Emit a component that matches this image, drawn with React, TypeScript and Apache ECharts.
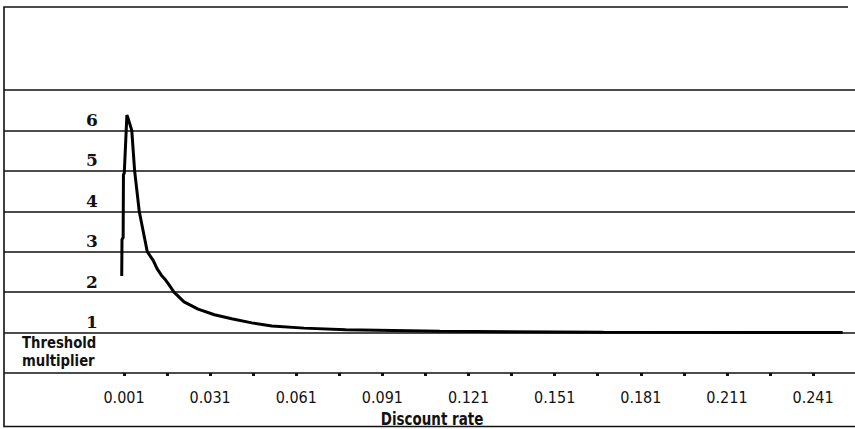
import React, { useEffect, useRef } from "react";
import * as echarts from "echarts";

// Discount rate (x) and threshold multiplier (y)
const discountRates = [
  0.0002, 0.0003, 0.0007, 0.0008, 0.0011, 0.002, 0.0024, 0.0037, 0.0047, 0.0063,
  0.0091, 0.0112, 0.0125, 0.014, 0.0155, 0.0167, 0.0184, 0.0219, 0.0268, 0.0325,
  0.0385, 0.0455, 0.0525, 0.0637, 0.0782, 0.111, 0.168, 0.2513,
];
const thresholdMultipliers = [
  2.4, 3.3, 3.35, 4.9, 4.95, 6.38, 6.3, 6.0, 5.0, 4.0,
  3.0, 2.78, 2.58, 2.42, 2.3, 2.18, 2.0, 1.76, 1.58, 1.44,
  1.34, 1.24, 1.16, 1.11, 1.07, 1.03, 1.01, 1.0,
];
const xLabelValues = [0.001, 0.031, 0.061, 0.091, 0.121, 0.151, 0.181, 0.211, 0.241];
const xTickValues = [
  0.001, 0.016, 0.031, 0.046, 0.061, 0.076, 0.091, 0.106, 0.121, 0.136, 0.151,
  0.166, 0.181, 0.196, 0.211, 0.226, 0.241,
];
const yLabels = ["", "1", "2", "3", "4", "5", "6", ""];
const xTitle = "Discount rate";
const yTitleLines = ["Threshold", "multiplier"];

const NARROW = '"Liberation Sans Narrow", "DejaVu Sans Condensed", "Roboto Condensed", "Liberation Sans", sans-serif';

export default function App() {
  const ref = useRef<HTMLDivElement>(null);
  useEffect(() => {
    document.body.style.margin = "0";
    const chart = echarts.init(ref.current!, null, { renderer: "svg" });
    const data = discountRates.map((r, i) => [r, thresholdMultipliers[i]]);
    chart.setOption({
      animation: false,
      backgroundColor: "#fff",
      grid: { left: 4, right: 0, top: 90, bottom: 56 },
      xAxis: {
        type: "value",
        min: -0.0408,
        max: 0.2556,
        offset: 8,
        axisLine: { show: false },
        splitLine: { show: false },
        axisTick: {
          show: true,
          customValues: xTickValues,
          length: 3,
          lineStyle: { color: "#111", width: 3 },
        },
        axisLabel: {
          show: true,
          customValues: xLabelValues,
          formatter: (v: number) => v.toFixed(3),
          color: "#111",
          fontSize: 16,
          fontFamily: NARROW,
          margin: 8,
        },
      },
      yAxis: {
        type: "value",
        min: 0,
        max: 7,
        interval: 1,
        axisLine: { show: false },
        axisTick: { show: false },
        splitLine: { show: true, lineStyle: { color: "#111", width: 1.6 } },
        axisLabel: {
          inside: true,
          margin: 88,
          align: "center",
          verticalAlign: "bottom",
          padding: [0, 0, 2, 0],
          color: "#111",
          fontSize: 17,
          fontWeight: "bold",
          fontFamily: '"DejaVu Serif", serif',
          formatter: (v: number) => yLabels[Math.round(v)] ?? "",
        },
      },
      series: [
        {
          type: "line",
          data,
          showSymbol: false,
          smooth: false,
          lineStyle: { color: "#000", width: 3 },
        },
      ],
      graphic: [
        {
          type: "polyline",
          shape: { points: [[848, 7], [4, 7], [4, 426.5], [855, 426.5]] },
          style: { stroke: "#111", lineWidth: 1.6, fill: null },
          silent: true,
        },
        ...yTitleLines.map((t, i) => ({
          type: "text",
          x: 22,
          y: 343 + i * 18,
          scaleX: 0.92,
          style: {
            text: t,
            fontSize: 16,
            fontWeight: "bold",
            fontFamily: NARROW,
            fill: "#111",
            align: "left",
            verticalAlign: "middle",
          },
        })),
        {
          type: "text",
          x: 432,
          y: 419,
          scaleX: 0.88,
          style: {
            text: xTitle,
            fontSize: 17,
            fontWeight: "bold",
            fontFamily: NARROW,
            fill: "#111",
            align: "center",
            verticalAlign: "middle",
          },
        },
      ],
    });
    return () => chart.dispose();
  }, []);
  return <div ref={ref} style={{ width: 855, height: 429 }} />;
}
